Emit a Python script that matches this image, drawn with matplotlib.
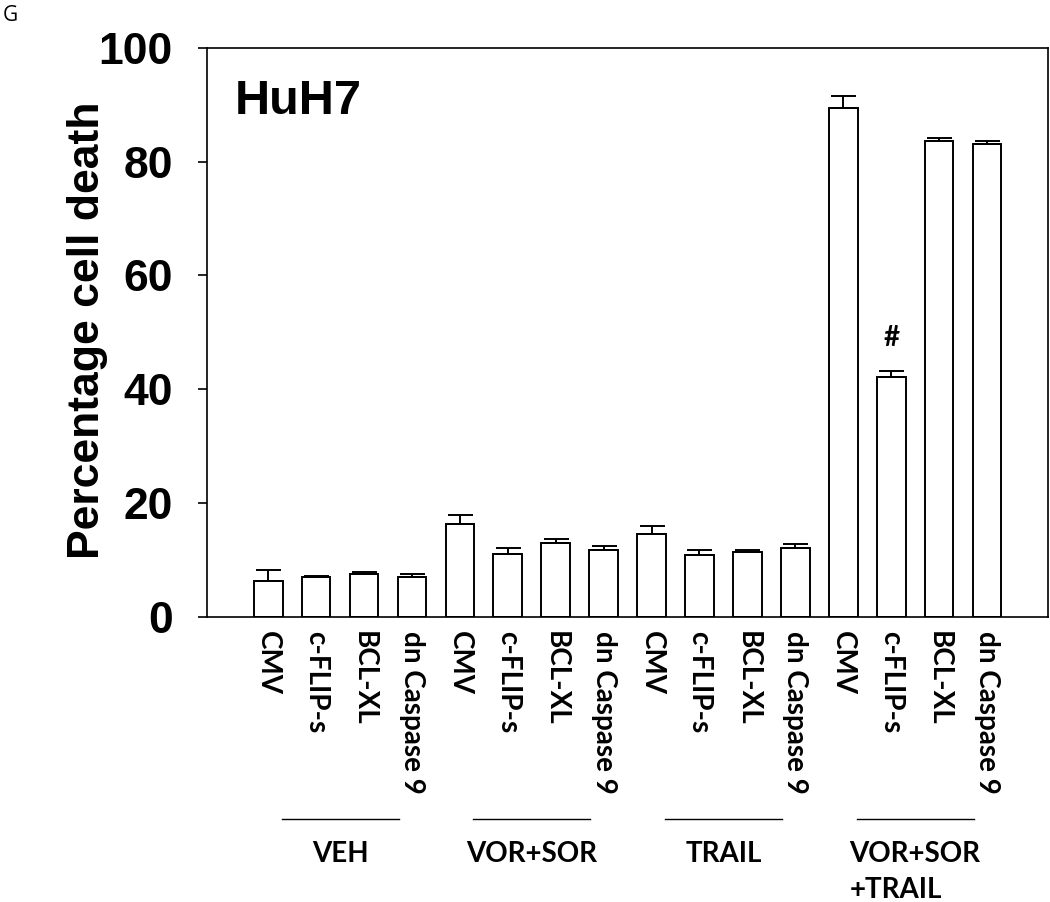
import numpy as np
import matplotlib
matplotlib.use("Agg")
import matplotlib.pyplot as plt

# bar data (HuH7, percentage cell death)
conditions = ["CMV", "c-FLIP-s", "BCL-XL", "dn Caspase 9"]
groups = ["VEH", "VOR+SOR", "TRAIL", "VOR+SOR\n+TRAIL"]
values = [6.3, 7.1, 7.6, 7.1,
          16.4, 11.1, 13.0, 11.8,
          14.5, 10.9, 11.5, 12.1,
          89.5, 42.2, 83.7, 83.1]
errors = [2.0, 0.1, 0.3, 0.4,
          1.6, 1.1, 0.7, 0.7,
          1.4, 0.8, 0.2, 0.8,
          2.0, 1.0, 0.5, 0.5]
yticks = [0, 20, 40, 60, 80, 100]
marked_bar = 13  # c-FLIP-s in VOR+SOR+TRAIL

plt.rcParams['font.family'] = ['Liberation Sans', 'DejaVu Sans']
narrow = ['Lato', 'DejaVu Sans']  # stand-in for Calibri

fig = plt.figure(figsize=(10.5, 9.02), dpi=100)
ax = fig.add_axes([0.197, 0.316, 0.801, 0.631])

x = np.arange(len(values))
ax.bar(x, values, width=0.6, color='white', edgecolor='black', linewidth=1.4)
# only the upper half of the error bar is drawn
ax.errorbar(x, values, yerr=[np.zeros(len(errors)), errors], fmt='none',
            ecolor='black', elinewidth=1.4, capsize=9, capthick=1.4)

ax.set_xlim(-1.28, 16.27)
ax.set_ylim(0, 100)
ax.set_yticks(yticks)
ax.tick_params(axis='y', direction='out', length=6.5, width=1.2, pad=18,
               labelsize=32)
for lab in ax.get_yticklabels():
    lab.set_fontweight('bold')
for s in ax.spines.values():
    s.set_linewidth(1.2)

# condition labels under every bar
ax.set_xticks(x)
ax.set_xticklabels(conditions * len(groups), rotation=270, fontsize=20,
                   fontweight='bold', family=narrow, va='top', ha='center')
ax.tick_params(axis='x', length=0, pad=10)

ax.set_ylabel('Percentage cell death', fontsize=32, fontweight='bold')
ax.yaxis.set_label_coords(-0.117, 0.504)

ax.text(0.033, 0.945, 'HuH7', transform=ax.transAxes, fontsize=35,
        fontweight='bold', va='top', ha='left')
ax.text(marked_bar, values[marked_bar] + errors[marked_bar] + 3.6, '#',
        fontsize=20, fontweight='bold', family=narrow, ha='center', va='bottom')

# group lines and labels below the tick labels
trans = ax.get_xaxis_transform()
for i, g in enumerate(groups):
    c = i * 4 + 1.5
    ax.plot([c - 1.22, c + 1.22], [-0.355, -0.355], color='black', lw=1.0,
            transform=trans, clip_on=False)
    ax.text(c, -0.393, g, transform=trans, ha='center', va='top',
            fontsize=20, fontweight='bold', family=narrow,
            linespacing=1.5, multialignment='left')

fig.text(0.003, 0.994, 'G', fontsize=15, family=['Open Sans', 'DejaVu Sans'],
         va='top', ha='left')

fig.savefig('out.png', dpi=100)
